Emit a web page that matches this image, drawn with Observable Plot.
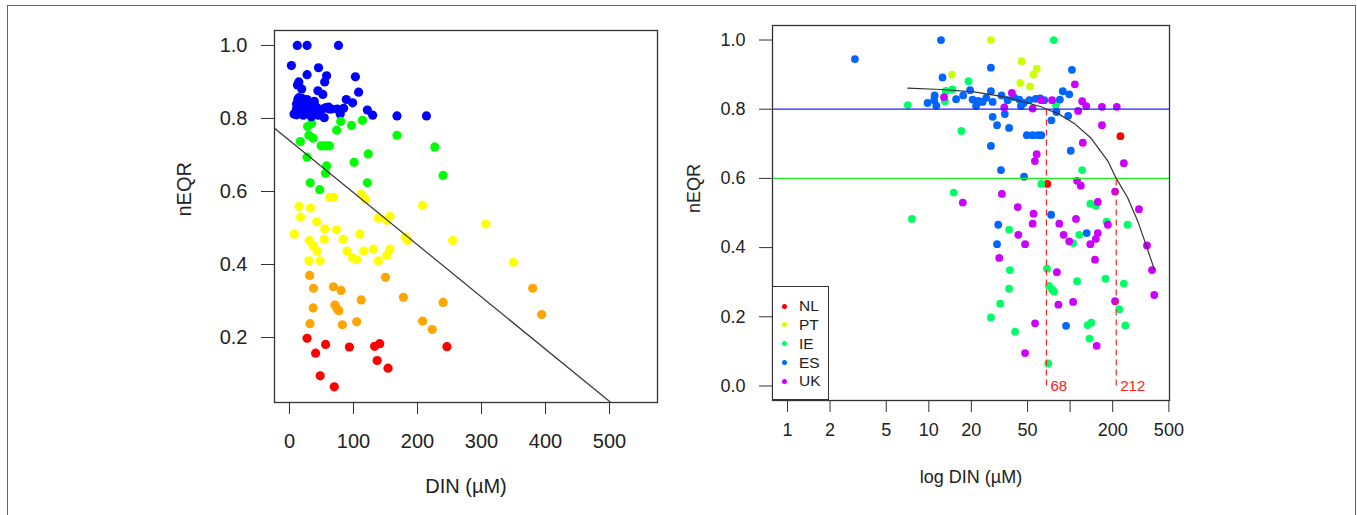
<!DOCTYPE html>
<html>
<head>
<meta charset="utf-8">
<script src="https://cdn.jsdelivr.net/npm/d3@7"></script>
<script src="https://cdn.jsdelivr.net/npm/@observablehq/plot@0.6"></script>
<style>
  body { margin: 0; background: #fff; font-family: "Liberation Sans", Arial, sans-serif; }
  #fig { position: relative; width: 1357px; height: 515px; overflow: hidden; background: #fff; }
  #border { position: absolute; left: 7px; top: 5px; width: 1349px; height: 640px;
            border: 1.5px solid #666; box-sizing: border-box; }
  .panel { position: absolute; top: 0; }
  #legend { position: absolute; left: 772px; top: 286px; width: 57px; height: 114px;
            border: 1.3px solid #333; box-sizing: border-box; background: #fff; }
  .entry { position: absolute; left: 0; height: 18px; font-size: 15.5px; color: #222; line-height: 18px; }
  .entry .dot { position: absolute; left: 9px; top: 6.5px; width: 5px; height: 5px; border-radius: 50%; }
  .entry .lab { position: absolute; left: 26px; top: 0; }
</style>
</head>
<body>
<div id="fig">
  <div id="border"></div>
  <div id="left" class="panel" style="left:0px"></div>
  <div id="right" class="panel" style="left:680px"></div>
  <div id="legend"></div>
</div>
<script>
// Countries and their colours (R rainbow(5))
const countries = ["NL", "PT", "IE", "ES", "UK"];
const countryColors = ["#FF0000", "#CCFF00", "#00FF66", "#0066FF", "#CC00FF"];

// DIN (µM) and nEQR per site, by country
const dinNL = [227, 69];
const eqrNL = [0.722, 0.584];

const dinPT = [27.5, 14.6, 45.4, 58, 55, 44.4, 52.1];
const eqrPT = [1.0, 0.90, 0.939, 0.917, 0.90, 0.876, 0.866];

const dinIE = [7.1, 13.2, 14.7, 13.0, 17.0, 15.0, 7.6, 76.6, 19.1, 79.3, 121.7, 62.5,
               139, 152, 181, 255, 37, 105, 116, 37.5, 68.6, 112, 178, 240, 37, 71, 74.5,
               77, 32, 223, 27.5, 40.8, 133, 141, 246, 137, 70];
const eqrIE = [0.812, 0.853, 0.857, 0.823, 0.737, 0.559, 0.483, 1.0, 0.881, 0.812, 0.624, 0.584,
               0.527, 0.521, 0.475, 0.466, 0.452, 0.413, 0.437, 0.335, 0.339, 0.303, 0.31, 0.296, 0.281, 0.289, 0.279,
               0.273, 0.238, 0.222, 0.198, 0.157, 0.176, 0.183, 0.175, 0.137, 0.065];

const dinES = [3.0, 12.2, 12.5, 11.0, 10.9, 11.3, 15.6, 27.5, 103, 88.7,
               98.6, 84.6, 80, 96.9, 73.7, 49.4, 54.3, 59.3, 62.5, 27.5,
               101, 32.4, 47.2, 73.4, 31, 30.4, 131, 93.6, 28.3, 30.4,
               37, 34.5, 19.6, 20.4, 22.4, 24.0, 21.6, 27.5, 28.3, 32.7,
               36.1, 43.7, 46.9, 51.4, 61.4, 65.6, 44.9, 17.5, 40, 57,
               25.5, 9.8];
const eqrES = [0.945, 1.0, 0.892, 0.84, 0.826, 0.81, 0.829, 0.92, 0.914, 0.852,
               0.843, 0.828, 0.792, 0.781, 0.768, 0.725, 0.725, 0.725, 0.725, 0.694,
               0.68, 0.624, 0.605, 0.495, 0.466, 0.41, 0.442, 0.174, 0.778, 0.754,
               0.746, 0.786, 0.855, 0.828, 0.824, 0.821, 0.809, 0.852, 0.821, 0.84,
               0.826, 0.828, 0.818, 0.826, 0.831, 0.826, 0.809, 0.84, 0.835, 0.83,
               0.833, 0.818];

const dinUK = [12.8, 108, 121.7, 130, 114, 168, 214, 168, 123, 58,
               56.3, 240, 112, 119, 208, 17.4, 32.9, 157, 307, 42.6,
               55.1, 110, 185, 43, 31.5, 48, 54.3, 83.8, 90, 98.6,
               157, 152, 139, 150, 350, 380, 394, 80.6, 82.6, 105,
               208, 56.5, 154, 48, 34.2, 54.3, 62.5, 74.5, 38.7];
const eqrUK = [0.835, 0.872, 0.823, 0.809, 0.795, 0.807, 0.807, 0.754, 0.703, 0.67,
               0.65, 0.644, 0.593, 0.579, 0.562, 0.53, 0.555, 0.532, 0.511, 0.517,
               0.498, 0.483, 0.466, 0.437, 0.37, 0.41, 0.469, 0.469, 0.437, 0.418,
               0.442, 0.425, 0.41, 0.365, 0.406, 0.335, 0.263, 0.329, 0.235, 0.243,
               0.245, 0.181, 0.116, 0.095, 0.805, 0.802, 0.826, 0.826, 0.847];

// nEQR quality classes for the linear panel
const classBreaks = [0.2, 0.4, 0.6, 0.8];
const classColors = ["#FF0000", "#FFA500", "#FFFF00", "#00FF00", "#0000FF"];

// Linear fit drawn across the linear panel
const lineIntercept = 0.74;
const lineSlope = -0.00143;

// Fitted response curve on the log panel
const curveDIN = [7.1, 12.2, 20.9, 36.1, 62.5, 68, 81.8, 107, 141, 185, 212, 255, 302, 350, 394];
const curveEQR = [0.861, 0.857, 0.850, 0.834, 0.807, 0.800, 0.788, 0.759, 0.716, 0.650, 0.600, 0.545, 0.475, 0.400, 0.337];

// Class boundaries and the DIN where the curve crosses them
const boundaryEQR = [0.8, 0.6];
const boundaryColors = ["#2020FF", "#20F020"];
const thresholdDIN = [68, 212];
const thresholdEQR = [0.8, 0.6];

// Axis ticks
const leftXTicks = [0, 100, 200, 300, 400, 500];
const leftYTicks = [0.2, 0.4, 0.6, 0.8, 1.0];
const rightXTicks = [1, 2, 5, 10, 20, 50, 100, 200, 500];
const rightXLabels = ["1", "2", "5", "10", "20", "50", "", "200", "500"];
const rightYTicks = [0, 0.2, 0.4, 0.6, 0.8, 1.0];

const byCountry = { NL: [dinNL, eqrNL], PT: [dinPT, eqrPT], IE: [dinIE, eqrIE], ES: [dinES, eqrES], UK: [dinUK, eqrUK] };
const sites = [];
for (const c of countries) {
  const [xs, ys] = byCountry[c];
  xs.forEach((x, i) => sites.push({ country: c, din: x, neqr: ys[i] }));
}

const font = "'Liberation Sans', Arial, Helvetica, sans-serif";
const ink = "#222";

// ---- Left panel: nEQR against DIN (linear) ----
const leftXDomain = [-23.4, 575];
const fitLine = leftXDomain.map(x => ({ x, y: lineIntercept + lineSlope * x }));

const left = Plot.plot({
  width: 680, height: 515,
  marginLeft: 274, marginRight: 23, marginTop: 30, marginBottom: 113,
  style: { fontFamily: font, fontSize: "20px", color: ink, background: "transparent" },
  x: { domain: leftXDomain },
  y: { domain: [0.022, 1.041] },
  color: { type: "threshold", domain: classBreaks, range: classColors },
  marks: [
    Plot.dot(sites, { x: "din", y: "neqr", fill: "neqr", r: 4.6, stroke: null }),
    Plot.line(fitLine, { x: "x", y: "y", stroke: "#333", strokeWidth: 1.2, clip: true }),
    Plot.frame({ stroke: "#333", strokeWidth: 1.3 }),
    Plot.axisX({ ticks: leftXTicks, tickSize: 12, tickPadding: 19, label: null, stroke: "#333" }),
    Plot.axisY({ ticks: leftYTicks, tickSize: 13, tickPadding: 14, tickFormat: d3.format(".1f"), label: null, stroke: "#333" }),
    Plot.text(["DIN (µM)"], { text: d => d, frameAnchor: "bottom", dy: 90, fontSize: 20, fill: ink }),
    Plot.text(["nEQR"], { text: d => d, frameAnchor: "left", dx: -90, rotate: -90, fontSize: 20, fill: ink })
  ]
});
document.getElementById("left").appendChild(left);

// ---- Right panel: nEQR against log DIN, by country ----
const right = Plot.plot({
  width: 677, height: 515,
  marginLeft: 92, marginRight: 188, marginTop: 25, marginBottom: 115,
  style: { fontFamily: font, fontSize: "18px", color: ink, background: "transparent" },
  x: { type: "log", domain: [0.783, 505] },
  y: { domain: [-0.042, 1.042] },
  color: { domain: countries, range: countryColors },
  marks: [
    Plot.dot(sites, { x: "din", y: "neqr", fill: "country", r: 3.9, stroke: null }),
    Plot.ruleY(boundaryEQR, { y: d => d, stroke: (d, i) => boundaryColors[i], strokeWidth: 1.3 }),
    Plot.line(curveDIN.map((x, i) => ({ x, y: curveEQR[i] })), { x: "x", y: "y", stroke: "#333", strokeWidth: 1.2 }),
    Plot.ruleX(thresholdDIN, { x: d => d, y1: 0, y2: (d, i) => thresholdEQR[i], stroke: "#FF2020", strokeWidth: 1.2, strokeDasharray: "6,4" }),
    Plot.text(thresholdDIN, { x: d => d, y: 0, text: d => String(d), textAnchor: "start", dx: 4, fontSize: 15, fill: "#FF2020" }),
    Plot.frame({ stroke: "#333", strokeWidth: 1.3 }),
    Plot.axisX({ ticks: rightXTicks, tickFormat: () => "", tickSize: 12, tickPadding: 15, label: null, stroke: "#333" }),
    Plot.text(rightXTicks, { x: d => d, text: (d, i) => rightXLabels[i], frameAnchor: "bottom", dy: 35, fontSize: 18, fill: ink }),
    Plot.axisY({ ticks: rightYTicks, tickSize: 13, tickPadding: 14, tickFormat: d3.format(".1f"), label: null, stroke: "#333" }),
    Plot.text(["log DIN (µM)"], { text: d => d, frameAnchor: "bottom", dy: 82, fontSize: 18, fill: ink }),
    Plot.text(["nEQR"], { text: d => d, frameAnchor: "left", dx: -78, rotate: -90, fontSize: 18, fill: ink })
  ]
});
document.getElementById("right").appendChild(right);

// ---- Legend inside the log panel ----
const legend = document.getElementById("legend");
const entryTops = [10, 28.5, 47.5, 66.5, 85];
countries.forEach((c, i) => {
  const e = document.createElement("div");
  e.className = "entry";
  e.style.top = entryTops[i] + "px";
  e.innerHTML = `<span class="dot" style="background:${countryColors[i]}"></span><span class="lab">${c}</span>`;
  legend.appendChild(e);
});
</script>
</body>
</html>
